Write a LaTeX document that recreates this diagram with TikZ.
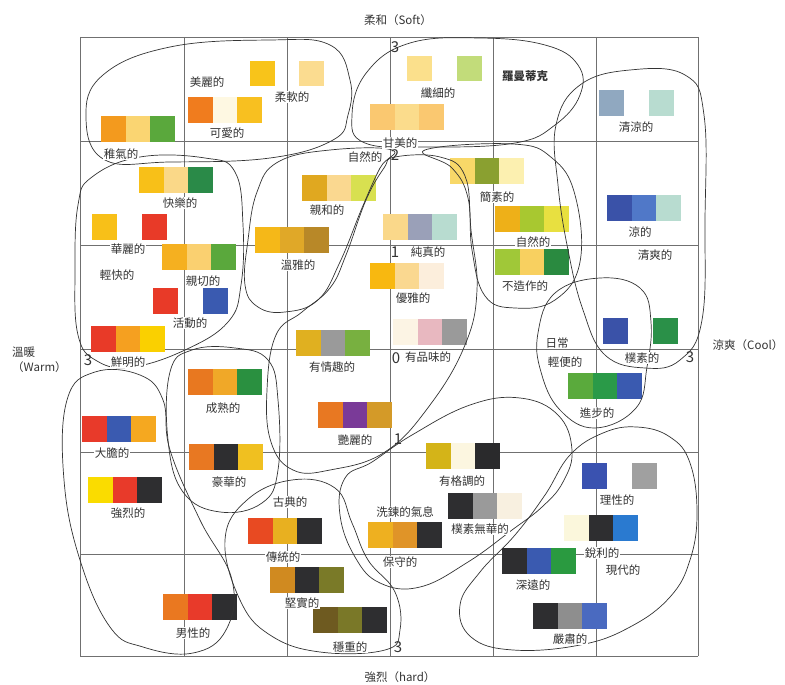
\documentclass[tikz,border=0pt]{standalone}
\usepackage{fontspec}
\setmainfont{Noto Sans CJK TC}
\definecolor{ink}{HTML}{333333}
\definecolor{rule}{HTML}{707070}

\begin{document}
\begin{tikzpicture}[x=1pt,y=-1pt,
  lbl/.style={fill=white,inner sep=1pt,text=ink,font=\fontsize{11.5}{12}\selectfont},
  num/.style={inner sep=0pt,text=ink,font=\fontsize{15}{15}\selectfont},
  axislbl/.style={inner sep=0pt,text=ink,font=\fontsize{11.5}{15}\selectfont,align=center},
  blob/.style={draw=ink,line width=0.7pt},
  gridline/.style={draw=rule,line width=0.8pt}]
\useasboundingbox (0,0) rectangle (785,685);

% grid
\foreach \gx in {80,184,287,390,493,596,698}
  \draw[gridline] (\gx,37) -- (\gx,656);
\foreach \gy in {37,141,245,349,452,554,656}
  \draw[gridline] (80,\gy) -- (698,\gy);

% colour chips, three in a row
\foreach \sx/\sy/\ca/\cb/\cc in {
  101/116/F39A1E/FAD572/5AA83C, 188/97/F07C1E/FEF8E2/F8C020,
  370/104/FAC870/FBDC8C/FAC870, 139/167/F8C018/FAD888/2A8A48,
  162/244/F5B020/FAD070/5AA83C, 91/326/E83A28/F5A020/FAD000,
  302/175/E0A820/FAD890/D8E050, 255/227/F5B818/E0A828/B88828,
  383/214/FAD88A/9AA0B8/B8DCD0, 370/263/F8B810/FAD890/FCEEDC,
  393/319/FCF4E4/E8B8C0/9A9A9A, 450/158/F8D868/8AA030/FCF0B0,
  495/206/EEB018/A8C830/E8E040, 495/249/A0C838/F8D060/2A8A40,
  607/195/3A52A8/5078C8/B8DCD0, 568/373/5AAA3C/2A9A48/3A5AB0,
  296/330/E0B020/9A9A9A/78B040, 188/369/E87820/F0A828/2A9040,
  318/402/E87822/7A3A98/D49A28, 82/416/E83A2A/3A5AB0/F5A820,
  189/444/E87822/2E2E30/F0C020, 426/443/D4B418/FCF6E0/2A2A2C,
  88/477/FADC00/E83A2A/2E2E30, 448/493/2E2E30/9A9A9A/F8F0E0,
  368/522/EEB020/E09428/2E2E30, 248/518/E84A22/E8B020/2E2E30,
  564/515/FBF7DC/2E2E30/2A7AD0, 502/548/2E2E30/3A5AB0/2A9A40,
  270/567/D08A20/2E2E30/7A7A28, 163/594/EA7820/E83A2A/2E2E30,
  313/607/6E5A20/7A7828/2E2E30, 533/603/2E2E30/8E8E8E/4A6AC0}{
  \definecolor{chipa}{HTML}{\ca}\definecolor{chipb}{HTML}{\cb}\definecolor{chipc}{HTML}{\cc}
  \fill[chipa] (\sx,\sy) rectangle ++(24.5,25.5);
  \fill[chipb] (\sx+24.5,\sy) rectangle ++(24.5,25.5);
  \fill[chipc] (\sx+49,\sy) rectangle ++(24.5,25.5);
}
% single chips
\foreach \sx/\sy/\ca in {250/61/F8C41A, 299/61/FBDC90, 407/56/FBE08C, 457/56/C2DC7A,
  599/90/90A8C0, 649/90/B8DCD0, 92/214/F8C018, 142/214/E83A28,
  153/288/E83A28, 203/288/3A5AB0, 603/318/3A52A8, 653/318/2A9048,
  582/463/3A52B0, 632/463/A0A0A0}{
  \definecolor{chipa}{HTML}{\ca}
  \fill[chipa] (\sx,\sy) rectangle ++(24.5,25.5);
}

% groups
\draw[blob] plot[smooth cycle,tension=0.7] coordinates {(86,118) (103,75) (170,47) (270,40) (330,45) (350,80) (348,115) (333,140) (270,158) (170,162) (105,160)};
\draw[blob] plot[smooth cycle,tension=0.7] coordinates {(352,115) (367,72) (410,43) (480,38) (545,45) (578,65) (580,95) (555,125) (515,143) (430,147) (365,143)};
\draw[blob] plot[smooth cycle,tension=0.7] coordinates {(556,125) (580,85) (630,70) (685,75) (704,115) (705,220) (702,320) (680,360) (645,368) (605,355) (583,310) (568,250) (558,185)};
\draw[blob] plot[smooth cycle,tension=0.7] coordinates {(92,177) (140,157) (205,158) (235,172) (243,225) (241,285) (228,322) (185,350) (132,367) (97,361) (78,335) (75,270) (78,205)};
\draw[blob] plot[smooth cycle,tension=0.7] coordinates {(392,150) (330,150) (278,162) (257,192) (248,240) (245,285) (258,307) (285,312) (318,300) (340,262) (362,208) (380,168)};
\draw[blob] plot[smooth cycle,tension=0.7] coordinates {(395,157) (440,157) (465,176) (471,230) (477,290) (465,345) (430,405) (385,452) (330,470) (293,470) (271,442) (267,390) (276,335) (302,312) (330,288) (346,255) (366,200) (384,168)};
\draw[blob] plot[smooth cycle,tension=0.7] coordinates {(425,150) (513,144) (552,158) (575,195) (580,262) (555,300) (515,308) (485,296) (472,250) (468,198) (452,168)};
\draw[blob] plot[smooth cycle,tension=0.7] coordinates {(600,278) (640,288) (651,322) (647,367) (636,408) (595,428) (560,410) (541,372) (538,333) (555,293)};
\draw[blob] plot[smooth cycle,tension=0.7] coordinates {(170,372) (192,350) (235,348) (268,360) (278,400) (278,470) (262,503) (220,512) (183,492) (168,440)};
\draw[blob] plot[smooth cycle,tension=0.7] coordinates {(67,400) (95,372) (140,375) (163,400) (170,450) (200,520) (232,580) (226,630) (193,653) (143,647) (110,627) (80,560) (64,480)};
\draw[blob] plot[smooth cycle,tension=0.7] coordinates {(225,540) (247,500) (292,480) (335,488) (352,523) (368,560) (395,592) (400,630) (385,650) (320,652) (270,635) (240,600)};
\draw[blob] plot[smooth cycle,tension=0.7] coordinates {(345,478) (372,462) (412,435) (470,405) (520,398) (558,415) (572,450) (563,482) (542,507) (512,530) (468,562) (420,587) (380,583) (355,557) (340,515)};
\draw[blob] plot[smooth cycle,tension=0.7] coordinates {(570,455) (603,433) (637,427) (670,437) (690,463) (697,513) (690,560) (670,597) (630,627) (580,645) (513,650) (471,637) (460,605) (480,572) (515,535) (545,495)};

% words
\node[lbl] (childish) at (121,154) {稚氣的};
\node[lbl] (beautiful) at (207,82) {美麗的};
\node[lbl] (cute) at (227,133) {可愛的};
\node[lbl] (soft) at (292,97) {柔軟的};
\node[lbl] (delicate) at (438,93) {纖細的};
\node[lbl] (sweet) at (400,143) {甘美的};
\node[lbl,font=\fontsize{11.5}{12}\selectfont\bfseries] (romantic) at (525,76) {羅曼蒂克};
\node[lbl] (fresh) at (636,127) {清涼的};
\node[lbl] (happy) at (180,203) {快樂的};
\node[lbl] (gorgeous) at (128,249) {華麗的};
\node[lbl] (light) at (117,275) {輕快的};
\node[lbl] (friendly) at (203,281) {親切的};
\node[lbl] (active) at (190,323) {活動的};
\node[lbl] (vivid) at (128,362) {鮮明的};
\node[lbl] (gentle) at (327,210) {親和的};
\node[lbl] (natural) at (365,157) {自然的};
\node[lbl] (graceful) at (298,265) {溫雅的};
\node[lbl] (pure) at (428,252) {純真的};
\node[lbl] (elegant) at (413,298) {優雅的};
\node[lbl] (tasteful) at (428,357) {有品味的};
\node[lbl] (simple) at (497,197) {簡素的};
\node[lbl] (naturalb) at (533,242) {自然的};
\node[lbl] (unaffected) at (525,286) {不造作的};
\node[lbl] (cool) at (640,232) {涼的};
\node[lbl] (crisp) at (655,255) {清爽的};
\node[lbl] (plain) at (642,358) {樸素的};
\node[lbl] (daily) at (557,343) {日常};
\node[lbl] (casual) at (565,362) {輕便的};
\node[lbl] (modernish) at (597,413) {進步的};
\node[lbl] (charming) at (332,367) {有情趣的};
\node[lbl] (mature) at (223,408) {成熟的};
\node[lbl] (glamorous) at (355,440) {艷麗的};
\node[lbl] (bold) at (112,453) {大膽的};
\node[lbl] (luxurious) at (229,482) {豪華的};
\node[lbl] (stylish) at (462,481) {有格調的};
\node[lbl] (strong) at (128,513) {強烈的};
\node[lbl] (rational) at (617,500) {理性的};
\node[lbl] (austere) at (480,529) {樸素無華的};
\node[lbl] (refined) at (405,512) {洗鍊的氣息};
\node[lbl] (conservative) at (400,562) {保守的};
\node[lbl] (classic) at (290,502) {古典的};
\node[lbl] (traditional) at (283,557) {傳統的};
\node[lbl] (sharp) at (602,553) {銳利的};
\node[lbl] (modern) at (623,570) {現代的};
\node[lbl] (deep) at (533,585) {深遠的};
\node[lbl] (solid) at (302,603) {堅實的};
\node[lbl] (masculine) at (193,633) {男性的};
\node[lbl] (steady) at (350,647) {穩重的};
\node[lbl] (serious) at (570,639) {嚴肅的};

% scale numbers
\node[num] (ntop) at (395,47) {3};
\node[num] (ntwo) at (395,155) {2};
\node[num] (none) at (395,252) {1};
\node[num] (nzero) at (396,358) {0};
\node[num] (nonelow) at (398,439) {1};
\node[num] (nbottom) at (398,647) {3};
\node[num] (nleft) at (88,360) {3};
\node[num] (nright) at (690,357) {3};

% axes
\node[axislbl] (softax) at (398,20) {柔和（Soft）};
\node[axislbl] (hardax) at (400,677) {強烈（hard）};
\node[axislbl,anchor=west,align=left] (warmax) at (12,360) {溫暖\\（Warm）};
\node[axislbl] (coolax) at (748,345) {涼爽（Cool）};
\end{tikzpicture}
\end{document}
